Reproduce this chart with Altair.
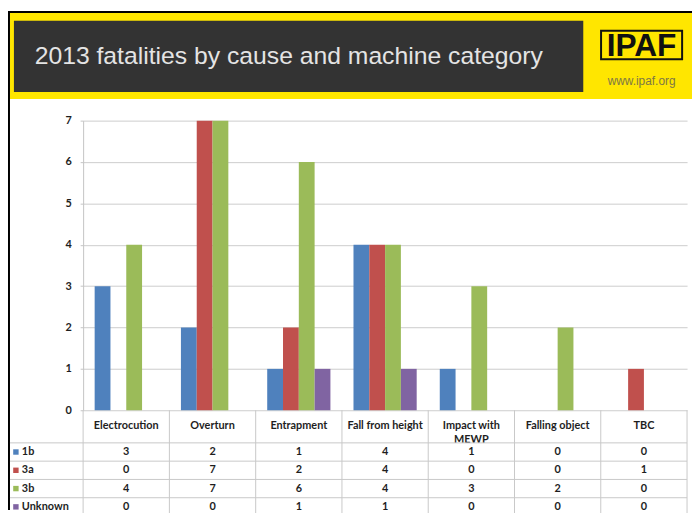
import altair as alt
import pandas as pd

# ---- data ----
cats = ["Electrocution", "Overturn", "Entrapment", "Fall from height",
        "Impact with MEWP", "Falling object", "TBC"]
header_labels = ["Electrocution", "Overturn", "Entrapment", "Fall from height",
                 "Impact with\nMEWP", "Falling object", "TBC"]
series = ["1b", "3a", "3b", "Unknown"]
v_1b = [3, 2, 1, 4, 1, 0, 0]
v_3a = [0, 7, 2, 4, 0, 0, 1]
v_3b = [4, 7, 6, 4, 3, 2, 0]
v_unknown = [0, 0, 1, 1, 0, 0, 0]
colors = ["#4F81BD", "#C0504D", "#9BBB59", "#8064A2"]
y_ticks = [0, 1, 2, 3, 4, 5, 6, 7]
title_text = "2013 fatalities by cause and machine category"
logo_text = "IPAF"
url_text = "www.ipaf.org"

values = {"1b": v_1b, "3a": v_3a, "3b": v_3b, "Unknown": v_unknown}
rows = []
for s in series:
    for c, v in zip(cats, values[s]):
        rows.append({"cat": c, "series": s, "value": v})
df = pd.DataFrame(rows)
df_cats = pd.DataFrame({"cat": cats, "label": header_labels})
df_series = pd.DataFrame({"series": series})

# ---- layout (view coordinates) ----
W, H = 611, 293
PAD_L, PAD_T, PAD_R, PAD_B = 76, 111, 5, 101
FONT = "Lato"
TXT = "#1E1E1E"

x_enc = alt.X("cat:N", sort=cats, scale=alt.Scale(paddingInner=0, paddingOuter=0), axis=None)
color_enc = alt.Color("series:N", sort=series, scale=alt.Scale(domain=series, range=colors), legend=None)
row_scale = alt.Scale(domain=series, range=[326, 400], paddingInner=0, paddingOuter=0)
one = pd.DataFrame({"k": [0]})

def rect(x, x2, y, y2, color, **kw):
    return alt.Chart(one).mark_rect(color=color, **kw).encode(
        x=alt.value(x), x2=alt.value(x2), y=alt.value(y), y2=alt.value(y2))

banner = alt.layer(
    rect(-76, 616, -111, -109, "#000000"),
    rect(-74, 616, -109, -22, "#FFE600"),
    rect(-76, -74, -111, 394, "#000000"),
    rect(-70, 506, -101, -29, "#333333"),
    alt.Chart(one).mark_rect(fill=None, stroke="#111111", strokeWidth=2).encode(
        x=alt.value(524), x2=alt.value(606), y=alt.value(-91), y2=alt.value(-62)),
)

title = alt.Chart(one).mark_text(
    text=title_text, font="Liberation Sans", fontSize=25, color="#E4E4E4",
    align="left", baseline="alphabetic").encode(x=alt.value(-49), y=alt.value(-57))
logo = alt.Chart(one).mark_text(
    text=logo_text, font="Liberation Sans", fontSize=32, fontWeight="bold", color="#111111",
    align="center", baseline="middle").encode(x=alt.value(565), y=alt.value(-75))
url = alt.Chart(one).mark_text(
    text=url_text, font="Liberation Sans", fontSize=12, color="#7D7746",
    align="center", baseline="middle").encode(x=alt.value(565), y=alt.value(-40))

bars = alt.Chart(df).mark_bar().encode(
    x=x_enc,
    xOffset=alt.XOffset("series:N", sort=series,
                        scale=alt.Scale(paddingInner=0, paddingOuter=0.73)),
    y=alt.Y("value:Q", scale=alt.Scale(domain=[0, 7], nice=False),
            axis=alt.Axis(values=y_ticks, title=None, grid=True, gridColor="#CCCCCC",
                          domainColor="#C4C4C4", tickColor="#C4C4C4", tickSize=3,
                          labelFont=FONT, labelFontWeight="bold", labelFontSize=11,
                          labelColor=TXT, labelPadding=9)),
    color=color_enc,
)

col_lines = alt.Chart(df_cats).mark_rule(color="#C8C8C8", strokeWidth=1).encode(
    x=alt.X("cat:N", sort=cats, bandPosition=0,
            scale=alt.Scale(paddingInner=0, paddingOuter=0), axis=None),
    y=alt.value(H), y2=alt.value(400))
right_line = alt.Chart(one).mark_rule(color="#C8C8C8", strokeWidth=1).encode(
    x=alt.value(W), y=alt.value(H), y2=alt.value(400))

header = alt.Chart(df_cats).mark_text(
    font=FONT, fontSize=11, fontWeight="bold", color=TXT, lineBreak="\n",
    lineHeight=14, baseline="middle", align="center").encode(
    x=x_enc, y=alt.value(309), text="label:N")

row_lines = alt.Chart(df_series).mark_rule(color="#C8C8C8", strokeWidth=1).encode(
    y=alt.Y("series:N", sort=series, bandPosition=0, scale=row_scale, axis=None),
    x=alt.value(-74), x2=alt.value(W))

cells = alt.Chart(df).mark_text(
    font=FONT, fontSize=11, fontWeight="bold", color=TXT, baseline="middle").encode(
    x=x_enc,
    y=alt.Y("series:N", sort=series, scale=row_scale, axis=None),
    text="value:Q")

row_squares = alt.Chart(df_series).mark_square(size=30, opacity=1).encode(
    x=alt.value(-68),
    y=alt.Y("series:N", sort=series, scale=row_scale, axis=None),
    color=color_enc)
row_labels = alt.Chart(df_series).mark_text(
    font=FONT, fontSize=11, fontWeight="bold", color=TXT, align="left",
    baseline="middle").encode(
    x=alt.value(-62),
    y=alt.Y("series:N", sort=series, scale=row_scale, axis=None),
    text="series:N")

chart = alt.layer(
    banner, title, logo, url, bars, col_lines, right_line, header,
    row_lines, cells, row_squares, row_labels
).resolve_scale(y="independent").properties(
    width=W, height=H,
    padding={"left": PAD_L, "top": PAD_T, "right": PAD_R, "bottom": PAD_B},
    autosize=alt.AutoSizeParams(type="none"),
    background="#FFFFFF",
).configure_view(stroke=None)

chart.save("out.html", embed_options={"renderer": "svg", "actions": False})
